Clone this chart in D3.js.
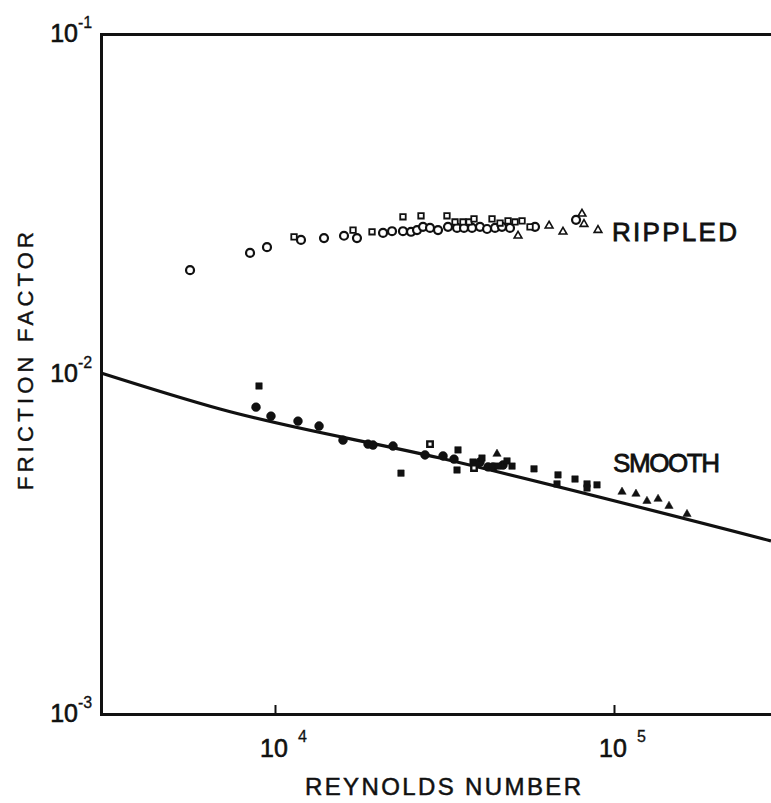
<!DOCTYPE html>
<html><head><meta charset="utf-8">
<script src="https://cdn.jsdelivr.net/npm/d3@7"></script>
<style>body{margin:0;background:#fff}svg{display:block}</style>
</head><body><svg id="c" width="771" height="803"></svg>
<script>
// ---- data ----
const xTickValues = [1e4, 1e5];
const xTickExp = ["4", "5"];
const yTickValues = [1e-1, 1e-2, 1e-3];
const yTickExp = ["-1", "-2", "-3"];
const xTitle = "REYNOLDS NUMBER";
const yTitle = "FRICTION FACTOR";
const seriesLabels = ["RIPPLED", "SMOOTH"];

const ripCircRe = [5615,8440,9470,11930,13950,15980,17450,20830,22140,23850,25190,26240,27330,28660,30260,32380,34430,36100,38120,40240,42220,44570,46720,49340,58480,77270];
const ripCircF  = [0.0202,0.0227,0.0236,0.0248,0.0251,0.0255,0.0251,0.0260,0.0263,0.0263,0.0262,0.0265,0.0271,0.0269,0.0265,0.0271,0.0269,0.0269,0.0269,0.0271,0.0267,0.0269,0.0271,0.0269,0.0271,0.0284];
const ripSqRe = [11380,16990,19330,23850,26960,32160,33960,35850,37360,38640,43670,46110,48690,51050,53550,56530];
const ripSqF  = [0.0253,0.0265,0.0262,0.0290,0.0292,0.0292,0.0280,0.0280,0.0280,0.0286,0.0286,0.0278,0.0282,0.0280,0.0282,0.0271];
const ripTriRe = [52110,64340,70720,80460,81560,89700];
const ripTriF  = [0.0255,0.0273,0.0262,0.0296,0.0276,0.0265];

const smCircRe = [8790,9730,11690,13490,15870,18810,19460,22290,27700,31310,33730,40240,42500,43960,47060];
const smCircF  = [0.00799,0.00752,0.00727,0.00703,0.00639,0.00622,0.00618,0.00614,0.00578,0.00574,0.00562,0.00551,0.00533,0.00533,0.00540];
const smSqRe = [8970,23530,34660,34430,38380,40790,45480,48350,50030,58080,68360,67900,76740,83260,83260,89100];
const smSqF  = [0.00922,0.00511,0.00598,0.00522,0.00551,0.00566,0.00536,0.00555,0.00536,0.00526,0.00505,0.00475,0.00491,0.00475,0.00462,0.00472];
const smOpenSqRe = [28660,38640];
const smOpenSqF  = [0.00622,0.00529];
const smTriRe = [45170,105600,116100,125100,134900,145300,164200];
const smTriF  = [0.00582,0.00450,0.00444,0.00423,0.00429,0.00409,0.00387];

const lineRe = [3067,6883,30670,290500];
const lineF  = [0.01007,0.00789,0.00566,0.00323];

// ---- chart ----
const svg = d3.select("#c");
const L = 101, R = 771, T = 34, B = 714;
const x = d3.scaleLog().domain([3067, 290500]).range([L, R]);
const y = d3.scaleLog().domain([1e-3, 1e-1]).range([B, T]);
const font = "'Liberation Sans', Arial, sans-serif";
const ink = "#111";

const zip = (a, b) => a.map((v, i) => [v, b[i]]);

// smooth curve
svg.append("path")
  .datum(zip(lineRe, lineF))
  .attr("d", d3.line().x(d => x(d[0])).y(d => y(d[1])).curve(d3.curveMonotoneX))
  .attr("fill", "none").attr("stroke", ink).attr("stroke-width", 3.2);

// axes
const gx = svg.append("g").attr("transform", `translate(0,${B})`)
  .call(d3.axisBottom(x).tickValues(xTickValues).tickSize(-9).tickSizeOuter(0).tickFormat(""));
const gt = svg.append("g").attr("transform", `translate(0,${T})`)
  .call(d3.axisTop(x).tickValues([]).tickSizeOuter(0));
const gy = svg.append("g").attr("transform", `translate(${L},0)`)
  .call(d3.axisLeft(y).tickValues([]).tickSizeOuter(0));
[gx, gt, gy].forEach(g => {
  g.select(".domain").attr("stroke", ink).attr("stroke-width", 3).attr("stroke-linecap", "square");
  g.selectAll(".tick line").attr("stroke", ink).attr("stroke-width", 2);
});

function txt(xp, yp, s, size, opts = {}) {
  const t = svg.append("text").attr("x", xp).attr("y", yp)
    .attr("font-family", font).attr("font-size", size).attr("fill", ink)
    .attr("stroke", ink).attr("stroke-width", opts.sw == null ? 0.6 : opts.sw)
    .text(s);
  if (opts.anchor) t.attr("text-anchor", opts.anchor);
  if (opts.len) t.attr("textLength", opts.len).attr("lengthAdjust", "spacing");
  if (opts.transform) t.attr("transform", opts.transform).attr("x", 0).attr("y", 0);
  return t;
}

// tick labels
xTickValues.forEach((v, i) => {
  txt(x(v) - 1, 757, "10", 25, {anchor: "middle"});
  txt(x(v) + 23, 742, xTickExp[i], 16, {sw: 0.3});
});
yTickValues.forEach((v, i) => {
  txt(78, y(v) + 8, "10", 25, {anchor: "end"});
  txt(78, y(v) - 6, yTickExp[i], 16, {sw: 0.3});
});

// titles
txt(305, 795, xTitle, 24, {len: 276, sw: 0.5});
txt(0, 0, yTitle, 22, {len: 258, sw: 0.4, transform: "translate(33,490) rotate(-90)"});

// series labels
txt(612, 241, seriesLabels[0], 26, {len: 125, sw: 0.8});
txt(613, 472, seriesLabels[1], 26, {len: 107, sw: 0.8});

// markers
const sym = (type, size) => d3.symbol().type(type).size(size)();
function draw(re, f, type, size, filled, sw) {
  svg.append("g").selectAll("path").data(zip(re, f)).join("path")
    .attr("transform", d => `translate(${x(d[0])},${y(d[1])})`)
    .attr("d", sym(type, size))
    .attr("fill", filled ? ink : "#fff")
    .attr("stroke", ink).attr("stroke-width", sw);
}
draw(ripCircRe, ripCircF, d3.symbolCircle, 50, false, 2.2);
draw(ripSqRe, ripSqF, d3.symbolSquare, 30, false, 1.8);
draw(ripTriRe, ripTriF, d3.symbolTriangle, 26, false, 1.6);
draw(smCircRe, smCircF, d3.symbolCircle, 62, true, 0.5);
draw(smSqRe, smSqF, d3.symbolSquare, 42, true, 0.5);
draw(smOpenSqRe, smOpenSqF, d3.symbolSquare, 30, false, 2.4);
draw(smTriRe, smTriF, d3.symbolTriangle, 30, true, 0.5);
</script>
</body></html>
